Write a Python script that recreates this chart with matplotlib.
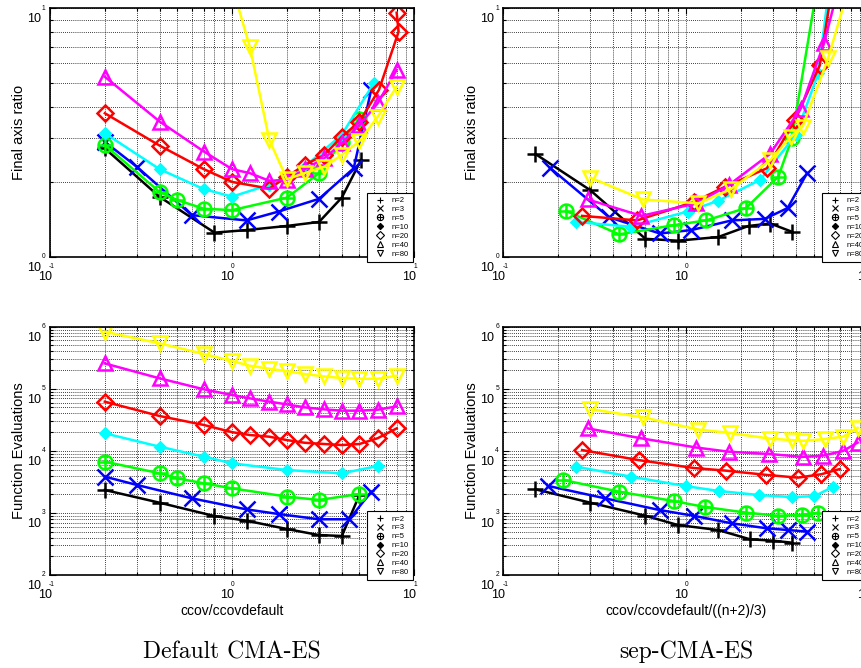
import matplotlib
matplotlib.use('Agg')
import matplotlib.pyplot as plt
import matplotlib.transforms as mtransforms
from matplotlib.lines import Line2D
from matplotlib.path import Path
from matplotlib.ticker import LogLocator

plt.rcParams['font.family'] = ['Liberation Sans', 'DejaVu Sans']

dims = [2, 3, 5, 10, 20, 40, 80]
colors = ['black', 'blue', '#00ff00', 'cyan', 'red', 'magenta', 'yellow']

# final axis ratio, default CMA-ES (x = ccov/ccovdefault)
ratio_default_x = [
    [0.2, 0.4, 0.8, 1.2, 2.0, 3.0, 4.0, 5.1],
    [0.2, 0.3, 0.6, 1.2, 1.8, 3.0, 4.65, 5.8],
    [0.2, 0.4, 0.5, 0.7, 1.0, 2.0, 3.0, 4.0, 5.0],
    [0.2, 0.4, 0.7, 1.0, 1.6, 2.5, 4.0, 6.0],
    [0.2, 0.4, 0.7, 1.0, 1.6, 2.0, 2.5, 3.2, 4.0, 5.0, 6.4, 8.2, 8.0],
    [0.2, 0.4, 0.7, 1.0, 1.25, 1.6, 2.0, 2.5, 3.2, 4.0, 5.0, 6.3, 8.0],
    [1.0, 1.25, 1.6, 2.0, 2.5, 3.2, 4.0, 5.0, 6.3, 8.0],
]
ratio_default_y = [
    [2.73, 1.74, 1.25, 1.28, 1.33, 1.38, 1.73, 2.45],
    [2.9, 2.3, 1.47, 1.40, 1.52, 1.71, 2.27, 4.7],
    [2.82, 1.82, 1.69, 1.56, 1.54, 1.73, 2.17, 2.9, 3.6],
    [3.14, 2.25, 1.87, 1.745, 1.95, 2.3, 3.1, 5.0],
    [3.78, 2.80, 2.25, 2.0, 1.88, 2.1, 2.34, 2.57, 3.04, 3.5, 4.7, 8.05, 9.6],
    [5.3, 3.5, 2.65, 2.25, 2.17, 2.02, 2.04, 2.25, 2.49, 2.86, 3.39, 4.15, 5.65],
    [12.3, 7.0, 2.95, 2.05, 2.17, 2.3, 2.57, 2.92, 3.66, 4.84],
]

# final axis ratio, sep-CMA-ES (x = ccov/ccovdefault/((n+2)/3))
ratio_sep_x = [
    [0.15, 0.30, 0.60, 0.90, 1.5, 2.2, 2.9, 3.8],
    [0.18, 0.38, 0.72, 1.07, 1.78, 2.7, 3.6, 4.6],
    [0.22, 0.43, 0.86, 1.29, 2.13, 3.2, 3.8, 5.2, 6.3],
    [0.25, 0.5, 1.02, 1.5, 2.55, 4.0, 5.3, 6.3],
    [0.27, 0.54, 1.1, 1.63, 2.77, 3.95, 5.4, 6.5],
    [0.29, 0.57, 1.14, 1.71, 2.88, 4.25, 5.7, 7.0],
    [0.30, 0.58, 1.17, 1.76, 2.9, 3.75, 4.35, 6.0, 8.0],
]
ratio_sep_y = [
    [2.59, 1.85, 1.18, 1.16, 1.20, 1.33, 1.36, 1.26],
    [2.28, 1.44, 1.24, 1.28, 1.40, 1.42, 1.57, 2.17],
    [1.53, 1.23, 1.34, 1.40, 1.57, 2.10, 3.0, 12.0, 40.0],
    [1.38, 1.32, 1.52, 1.68, 2.04, 3.1, 5.5, 15.0],
    [1.46, 1.40, 1.66, 1.91, 2.27, 3.55, 5.9, 14.0],
    [1.70, 1.46, 1.64, 1.94, 2.59, 3.95, 7.25, 13.0],
    [2.08, 1.70, 1.64, 1.87, 2.45, 3.04, 3.34, 6.3, 13.0],
]

# function evaluations, default CMA-ES
evals_default_x = [
    [0.2, 0.4, 0.8, 1.2, 2.0, 3.0, 4.0, 5.0],
    [0.2, 0.3, 0.6, 1.2, 1.8, 3.0, 4.4, 5.8],
    [0.2, 0.4, 0.5, 0.7, 1.0, 2.0, 3.0, 5.0],
    [0.2, 0.4, 0.7, 1.0, 2.0, 4.0, 6.3],
    [0.2, 0.4, 0.7, 1.0, 1.25, 1.6, 2.0, 2.5, 3.2, 4.0, 5.0, 6.3, 8.0],
    [0.2, 0.4, 0.7, 1.0, 1.25, 1.6, 2.0, 2.5, 3.2, 4.0, 5.0, 6.3, 8.0],
    [0.2, 0.4, 0.7, 1.0, 1.25, 1.6, 2.0, 2.5, 3.2, 4.0, 5.0, 6.3, 8.0],
]
evals_default_y = [
    [2340, 1460, 890, 750, 550, 440, 425, 1950],
    [3840, 2820, 1720, 1140, 960, 790, 790, 2200],
    [6700, 4350, 3610, 3000, 2490, 1830, 1620, 2020],
    [19150, 11670, 8050, 6290, 4910, 4340, 5700],
    [61900, 36400, 26100, 20000, 18000, 16900, 14900, 13500, 12900, 12400, 12900, 16000, 23000],
    [256000, 147000, 98000, 79300, 70100, 62000, 56000, 50200, 46600, 44400, 44400, 46000, 52000],
    [830000, 539000, 363000, 280000, 235000, 210000, 192000, 173000, 158000, 149000, 145000, 145000, 162000],
]

# function evaluations, sep-CMA-ES
evals_sep_x = [
    [0.15, 0.30, 0.60, 0.90, 1.5, 2.24, 3.0, 3.78],
    [0.176, 0.36, 0.72, 1.1, 1.78, 2.77, 3.63, 4.58],
    [0.213, 0.43, 0.86, 1.27, 2.14, 3.2, 4.3, 5.3],
    [0.25, 0.5, 1.0, 1.51, 2.5, 3.78, 5.05, 6.35],
    [0.27, 0.55, 1.1, 1.65, 2.75, 4.1, 5.5, 6.95],
    [0.29, 0.57, 1.14, 1.71, 2.85, 4.35, 5.65, 7.26, 8.7],
    [0.30, 0.58, 1.17, 1.75, 2.9, 3.78, 4.38, 5.8, 7.26, 8.7],
]
evals_sep_y = [
    [2400, 1460, 900, 640, 530, 376, 357, 332],
    [2720, 1720, 1110, 900, 680, 565, 530, 500],
    [3390, 2200, 1550, 1245, 1010, 900, 930, 1010],
    [5560, 3840, 2700, 2260, 1945, 1800, 1860, 2620],
    [10300, 7100, 5300, 4800, 4100, 3700, 4200, 5100],
    [23000, 15900, 11300, 9700, 8900, 8000, 8400, 10000, 13600],
    [47000, 34700, 22000, 19400, 15700, 14900, 14500, 15500, 17000, 23500],
]

# circle with a cross, the matlab "⊕" marker
oplus = Path.make_compound_path(
    Path.unit_circle(),
    Path([[-1, 0], [1, 0], [0, -1], [0, 1]],
         [Path.MOVETO, Path.LINETO, Path.MOVETO, Path.LINETO]))
markers = ['+', 'x', oplus, 'D', 'D', '^', 'v']
msizes = [11, 11, 10, 5.5, 8, 10.5, 10.5]
filled = [False, False, False, True, False, False, False]
leg_sizes = [5, 4.5, 4.5, 3.2, 3.6, 5, 5]

W, H = 861, 668
fig = plt.figure(figsize=(W / 100, H / 100), dpi=100)


def px(dx, dy):
    return mtransforms.ScaledTranslation(dx / 100, dy / 100, fig.dpi_scale_trans)


def add_ax(left, top, right, bottom):
    return fig.add_axes([left / W, 1 - bottom / H, (right - left) / W, (bottom - top) / H])


def panel(ax, xs, ys, ylim, ydecs, ylabel, xlabel=None, caption=None):
    for i in range(len(dims)):
        ax.plot(xs[i], ys[i], color=colors[i], lw=1.8, marker=markers[i], ms=msizes[i],
                mew=1.8, mec=colors[i], mfc=colors[i] if filled[i] else 'none')
    ax.set_xscale('log')
    ax.set_yscale('log')
    ax.set_xlim(0.1, 10)
    ax.set_ylim(*ylim)
    for axis in (ax.xaxis, ax.yaxis):
        axis.set_major_locator(LogLocator(base=10))
        axis.set_minor_locator(LogLocator(base=10, subs=range(2, 10), numticks=20))
    ax.grid(True, which='both', color='black', linestyle=(0, (1, 1.5)), linewidth=0.6)
    ax.tick_params(which='both', direction='in', top=True, right=True,
                   labelbottom=False, labelleft=False, width=0.8)
    ax.tick_params(which='major', length=4)
    ax.tick_params(which='minor', length=2)
    for s in ax.spines.values():
        s.set_linewidth(1.2)

    # matlab style tick labels: exponent raised over the "10"
    xtr = ax.get_xaxis_transform()
    for d in (-1, 0, 1):
        ax.text(10.0 ** d, 0, str(d), transform=xtr + px(-1, -10), ha='left', va='center',
                fontsize=4.8, clip_on=False)
        ax.text(10.0 ** d, 0, '10', transform=xtr + px(2, -20), ha='right', va='center',
                fontsize=9, clip_on=False)
    ytr = ax.get_yaxis_transform()
    for d in ydecs:
        ax.text(0, 10.0 ** d, str(d), transform=ytr + px(-8, 0), ha='left', va='center',
                fontsize=4.8, clip_on=False)
        ax.text(0, 10.0 ** d, '10', transform=ytr + px(-9, -11), ha='right', va='center',
                fontsize=9, clip_on=False)

    ax.text(0, 0.5, ylabel, transform=ax.transAxes + px(-31, 0), rotation=90,
            ha='center', va='center', fontsize=10.5)
    if xlabel:
        ax.text(0.5, 0, xlabel, transform=ax.transAxes + px(0, -36), ha='center',
                va='center', fontsize=10)
    if caption:
        ax.text(0.5, 0, caption, transform=ax.transAxes + px(0, -77), ha='center',
                va='center', fontsize=17, family='cmr10')

    handles = [Line2D([], [], ls='none', color='k', marker=markers[i], ms=leg_sizes[i],
                      mew=0.8, mec='k', mfc='k' if filled[i] else 'none')
               for i in range(len(dims))]
    leg = ax.legend(handles, ['n=%d' % n for n in dims], loc='lower right',
                    bbox_to_anchor=(1 - 1 / 365, -5 / 248), bbox_transform=ax.transAxes,
                    borderaxespad=0, fontsize=5.5, labelspacing=0.2, handlelength=2.3,
                    handletextpad=0.4, borderpad=0.55, fancybox=False, framealpha=1,
                    edgecolor='black')
    leg.get_frame().set_linewidth(0.8)


ax_tl = add_ax(50, 8.3, 414.3, 256.7)
ax_tr = add_ax(503.3, 8.3, 868.7, 256.7)
ax_bl = add_ax(50, 326.7, 414.3, 575)
ax_br = add_ax(503.3, 326.7, 868.7, 575)

panel(ax_tl, ratio_default_x, ratio_default_y, (1, 10), (0, 1), 'Final axis ratio')
panel(ax_tr, ratio_sep_x, ratio_sep_y, (1, 10), (0, 1), 'Final axis ratio')
panel(ax_bl, evals_default_x, evals_default_y, (1e2, 1e6), (2, 3, 4, 5, 6),
      'Function Evaluations', 'ccov/ccovdefault', 'Default CMA-ES')
panel(ax_br, evals_sep_x, evals_sep_y, (1e2, 1e6), (2, 3, 4, 5, 6),
      'Function Evaluations', 'ccov/ccovdefault/((n+2)/3)', 'sep-CMA-ES')

fig.savefig('out.png', dpi=100)
